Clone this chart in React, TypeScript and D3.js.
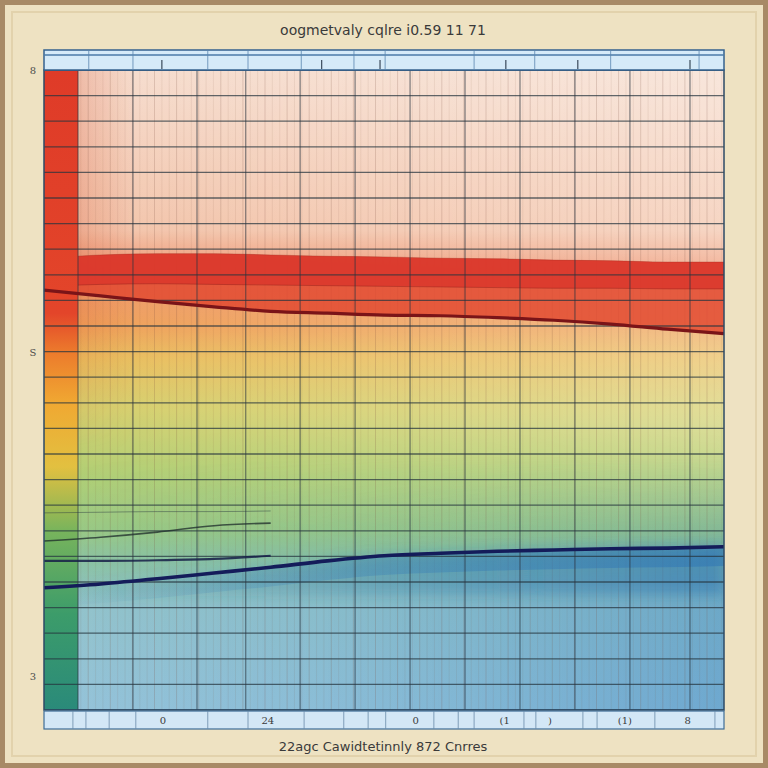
import React from "react";
import * as d3 from "d3";

// values (x: 0..120 across the plot, y: 0..100 bottom to top)
const xPoints = [0, 10, 20, 30, 40, 50, 60, 70, 80, 90, 100, 110, 120];
const redTop = [70.6, 71.1, 71.3, 71.3, 71.1, 70.9, 70.8, 70.6, 70.5, 70.3, 70.2, 70.0, 70.0];
const redMid = [66.2, 66.5, 66.6, 66.5, 66.4, 66.3, 66.2, 66.1, 66.0, 65.9, 65.9, 65.8, 65.8];
const darkRed = [65.6, 64.7, 63.8, 63.0, 62.3, 62.0, 61.7, 61.6, 61.3, 60.9, 60.3, 59.5, 58.8];
const navyLine = [19.1, 19.7, 20.5, 21.4, 22.3, 23.3, 24.1, 24.5, 24.8, 25.0, 25.2, 25.3, 25.5];
const blueLow = [17.5, 17.6, 17.7, 17.8, 17.9, 17.9, 18.0, 18.0, 18.0, 18.0, 18.0, 18.0, 18.0];
const faintA = [26.4, 27.0, 27.8, 28.8, 29.2];
const faintB = [23.3, 23.3, 23.4, 23.6, 24.1];
const faintC = [30.8, 30.9, 31.0, 31.0, 31.1];

const majorGridX = [6, 15.7, 27, 35.6, 45.2, 54.9, 64.6, 74.3, 84, 93.7, 103.4, 114];
const topDividers = [7.9, 15.7, 28.9, 36, 45.4, 54.7, 60.2, 75.9, 86.6, 100, 115.6];
const topMarks = [20.8, 49, 59.3, 81.5, 94.2, 114];
const bottomDividers = [5.1, 7.4, 11.5, 16.2, 28.9, 36, 45.9, 52.9, 57.2, 60.3, 68.8, 73.1, 75.9, 84.7, 86.8, 95.1, 97.6, 107.8, 118.4];
const bottomTickValues = [21, 39.5, 65.6, 81.3, 89.3, 102.5, 113.6];
const bottomTickLabels = ["0", "24", "0", "(1", ")", "(1)", "8"];
const leftTickValues = [100, 56, 5.3];
const leftTickLabels = ["8", "S", "3"];

const titleText = "oogmetvaly cqlre ⅰ0.59 11 71";
const footerText = "22agc  Cawidtetinnly 872 Cnrres";

const W = 768;
const H = 768;
const plot = { left: 44, right: 724, top: 70, bottom: 710 };

export default function App() {
  const x = d3.scaleLinear().domain([0, 120]).range([plot.left, plot.right]);
  const y = d3.scaleLinear().domain([0, 100]).range([plot.bottom, plot.top]);

  const areaBetween = (top: number[], bot: number[]) =>
    d3
      .area<number>()
      .x((d, i) => x(xPoints[i]))
      .y0((d, i) => y(bot[i]))
      .y1((d) => y(d))
      .curve(d3.curveMonotoneX)(top) || "";

  const line = (vals: number[]) =>
    d3
      .line<number>()
      .x((d, i) => x(xPoints[i]))
      .y((d) => y(d))
      .curve(d3.curveMonotoneX)(vals) || "";

  const minorX = d3.range(0, 120, 1.3);
  const hTicks = d3.range(0, 101, 4);
  const pw = plot.right - plot.left;
  const ph = plot.bottom - plot.top;

  return (
    <div style={{ position: "fixed", left: 0, top: 0 }}>
      <svg width={W} height={H} style={{ display: "block" }}>
        <defs>
          <linearGradient id="bg" x1="0" y1={plot.top} x2="0" y2={plot.bottom} gradientUnits="userSpaceOnUse">
            <stop offset="0" stopColor="#f6dccd" />
            <stop offset="0.25" stopColor="#f3c4aa" />
            <stop offset="0.31" stopColor="#ee9672" />
            <stop offset="0.40" stopColor="#efa058" />
            <stop offset="0.45" stopColor="#e9bd5c" />
            <stop offset="0.53" stopColor="#d5cf6c" />
            <stop offset="0.63" stopColor="#b2cf74" />
            <stop offset="0.72" stopColor="#99c985" />
            <stop offset="0.77" stopColor="#8cc3a4" />
            <stop offset="0.84" stopColor="#94c4cc" />
            <stop offset="1" stopColor="#96c4da" />
          </linearGradient>
          <linearGradient id="fade" x1={plot.left} y1="0" x2={plot.right} y2="0" gradientUnits="userSpaceOnUse">
            <stop offset="0" stopColor="#ffffff" stopOpacity="0" />
            <stop offset="0.3" stopColor="#ffffff" stopOpacity="0.08" />
            <stop offset="1" stopColor="#ffffff" stopOpacity="0.3" />
          </linearGradient>
          <linearGradient id="deepBlue" x1={plot.left} y1="0" x2={plot.right} y2="0" gradientUnits="userSpaceOnUse">
            <stop offset="0" stopColor="#3a88c4" stopOpacity="0" />
            <stop offset="0.4" stopColor="#3a88c4" stopOpacity="0.12" />
            <stop offset="1" stopColor="#2f7cc0" stopOpacity="0.38" />
          </linearGradient>
          <linearGradient id="vTop" x1="0" y1={plot.top} x2="0" y2={plot.bottom} gradientUnits="userSpaceOnUse">
            <stop offset="0" stopColor="#fff" />
            <stop offset="0.55" stopColor="#fff" />
            <stop offset="0.75" stopColor="#000" />
          </linearGradient>
          <linearGradient id="vBottom" x1="0" y1={plot.top} x2="0" y2={plot.bottom} gradientUnits="userSpaceOnUse">
            <stop offset="0.6" stopColor="#000" />
            <stop offset="0.8" stopColor="#fff" />
          </linearGradient>
          <linearGradient id="vStrip" x1="0" y1={plot.top} x2="0" y2={plot.bottom} gradientUnits="userSpaceOnUse">
            <stop offset="0.3" stopColor="#fff" />
            <stop offset="0.6" stopColor="#000" />
          </linearGradient>
          <mask id="mTop" maskUnits="userSpaceOnUse" x={plot.left} y={plot.top} width={pw} height={ph}>
            <rect x={plot.left} y={plot.top} width={pw} height={ph} fill="url(#vTop)" />
          </mask>
          <mask id="mBottom" maskUnits="userSpaceOnUse" x={plot.left} y={plot.top} width={pw} height={ph}>
            <rect x={plot.left} y={plot.top} width={pw} height={ph} fill="url(#vBottom)" />
          </mask>
          <mask id="mStrip" maskUnits="userSpaceOnUse" x={plot.left} y={plot.top} width={pw} height={ph}>
            <rect x={plot.left} y={plot.top} width={pw} height={ph} fill="url(#vStrip)" />
          </mask>
          <linearGradient id="strip" x1="0" y1={plot.top} x2="0" y2={plot.bottom} gradientUnits="userSpaceOnUse">
            <stop offset="0" stopColor="#df3b28" />
            <stop offset="0.38" stopColor="#e3452a" />
            <stop offset="0.44" stopColor="#ec7a2c" />
            <stop offset="0.52" stopColor="#f0a832" />
            <stop offset="0.62" stopColor="#e2c040" />
            <stop offset="0.72" stopColor="#78b45c" />
            <stop offset="0.85" stopColor="#3c9c6a" />
            <stop offset="1" stopColor="#2a8a7a" />
          </linearGradient>
          <linearGradient id="stripShade" x1="78" y1="0" x2="135" y2="0" gradientUnits="userSpaceOnUse">
            <stop offset="0" stopColor="#d8502c" stopOpacity="0.22" />
            <stop offset="1" stopColor="#d8502c" stopOpacity="0" />
          </linearGradient>
          <linearGradient id="blueBand" x1={plot.left} y1="0" x2={plot.right} y2="0" gradientUnits="userSpaceOnUse">
            <stop offset="0" stopColor="#2f78b8" stopOpacity="0.0" />
            <stop offset="0.45" stopColor="#2f78b8" stopOpacity="0.28" />
            <stop offset="1" stopColor="#2a72b6" stopOpacity="0.5" />
          </linearGradient>
          <filter id="soft" x="-5%" y="-20%" width="110%" height="140%">
            <feGaussianBlur stdDeviation="6" />
          </filter>
          <clipPath id="clip">
            <rect x={plot.left} y={plot.top} width={pw} height={ph} />
          </clipPath>
        </defs>

        {/* frame */}
        <rect x={0} y={0} width={W} height={H} fill="#a88a66" />
        <rect x={5} y={5} width={W - 10} height={H - 10} fill="#eee2c2" />
        <rect x={12} y={12} width={W - 24} height={H - 24} fill="none" stroke="#e2d2ac" strokeWidth={2} />

        <text x={383} y={35} textAnchor="middle" fontFamily="DejaVu Sans" fontSize={14} fill="#3a3a3a">
          {titleText}
        </text>

        <g clipPath="url(#clip)">
          <rect x={plot.left} y={plot.top} width={pw} height={ph} fill="url(#bg)" />
          <rect x={plot.left} y={plot.top} width={pw} height={ph} fill="url(#fade)" mask="url(#mTop)" />
          <rect x={plot.left} y={plot.top} width={pw} height={ph} fill="url(#deepBlue)" mask="url(#mBottom)" />
          <rect x={x(6)} y={plot.top} width={60} height={ph} fill="url(#stripShade)" mask="url(#mStrip)" />

          {/* thin vertical hatching */}
          {minorX.map((v, i) => (
            <line key={"m" + i} x1={x(v)} x2={x(v)} y1={plot.top} y2={plot.bottom} stroke="#7a4a3a" strokeOpacity={i % 3 === 0 ? 0.2 : 0.09} strokeWidth={1} />
          ))}

          {/* red bands */}
          <path d={areaBetween(redTop, darkRed)} fill="#e2472e" fillOpacity={0.82} />
          <path d={areaBetween(redTop, redMid)} fill="#d9352a" fillOpacity={0.8} />
          <path d={line(redMid)} fill="none" stroke="#8a1e1a" strokeOpacity={0.4} strokeWidth={1} />
          <path d={line(redTop)} fill="none" stroke="#a32a20" strokeOpacity={0.35} strokeWidth={1} />

          {/* blue band */}
          <path d={areaBetween(navyLine, blueLow)} fill="url(#blueBand)" filter="url(#soft)" />
          <path d={areaBetween(navyLine, navyLine.map((v) => v - 3))} fill="url(#blueBand)" />

          <rect x={plot.left} y={plot.top} width={x(6) - plot.left} height={ph} fill="url(#strip)" />

          {/* grid */}
          {hTicks.map((v) => (
            <line key={"h" + v} x1={plot.left} x2={plot.right} y1={y(v)} y2={y(v)} stroke="#26343e" strokeOpacity={0.72} strokeWidth={1.3} />
          ))}
          {majorGridX.map((v) => (
            <line key={"g" + v} x1={x(v)} x2={x(v)} y1={plot.top} y2={plot.bottom} stroke="#2a3440" strokeOpacity={0.6} strokeWidth={1.2} />
          ))}

          {/* series lines */}
          <path d={line(darkRed)} fill="none" stroke="#7a1418" strokeWidth={3.2} />
          <path d={line(faintC)} fill="none" stroke="#2a3a40" strokeOpacity={0.45} strokeWidth={1} />
          <path d={line(faintA)} fill="none" stroke="#1c2a2a" strokeOpacity={0.75} strokeWidth={1.6} />
          <path d={line(faintB)} fill="none" stroke="#161e48" strokeOpacity={0.85} strokeWidth={2.2} />
          <path d={line(navyLine)} fill="none" stroke="#141c5a" strokeWidth={3.6} />
        </g>

        <rect x={plot.left} y={plot.top} width={pw} height={ph} fill="none" stroke="#2c4a66" strokeWidth={1.5} />

        {/* top band */}
        <rect x={plot.left} y={50} width={pw} height={20} fill="#d5eaf8" stroke="#35628e" strokeWidth={1.5} />
        <line x1={plot.left} x2={plot.right} y1={55} y2={55} stroke="#4a7aa8" strokeWidth={1.5} />
        {topDividers.map((v) => (
          <line key={"td" + v} x1={x(v)} x2={x(v)} y1={50} y2={70} stroke="#5a86b0" strokeWidth={0.8} />
        ))}
        {topMarks.map((v) => (
          <line key={"tm" + v} x1={x(v)} x2={x(v)} y1={60} y2={69} stroke="#3a4a5a" strokeWidth={1.2} />
        ))}

        {/* bottom band */}
        <rect x={plot.left} y={711} width={pw} height={18} fill="#d3e7f6" stroke="#3f6d96" strokeWidth={1.2} />
        {bottomDividers.map((v) => (
          <line key={"bd" + v} x1={x(v)} x2={x(v)} y1={711} y2={729} stroke="#6a8aa8" strokeWidth={0.8} />
        ))}
        {bottomTickValues.map((v, i) => (
          <text key={"bt" + i} x={x(v)} y={724} textAnchor="middle" fontFamily="DejaVu Serif" fontSize={10} fill="#3a3a3a">
            {bottomTickLabels[i]}
          </text>
        ))}

        {leftTickValues.map((v, i) => (
          <text key={"lt" + i} x={33} y={y(v) + 4} textAnchor="middle" fontFamily="DejaVu Serif" fontSize={10} fill="#4a4a4a">
            {leftTickLabels[i]}
          </text>
        ))}

        <text x={383} y={751} textAnchor="middle" fontFamily="DejaVu Sans" fontSize={13} fill="#3a3a3a">
          {footerText}
        </text>
      </svg>
    </div>
  );
}
